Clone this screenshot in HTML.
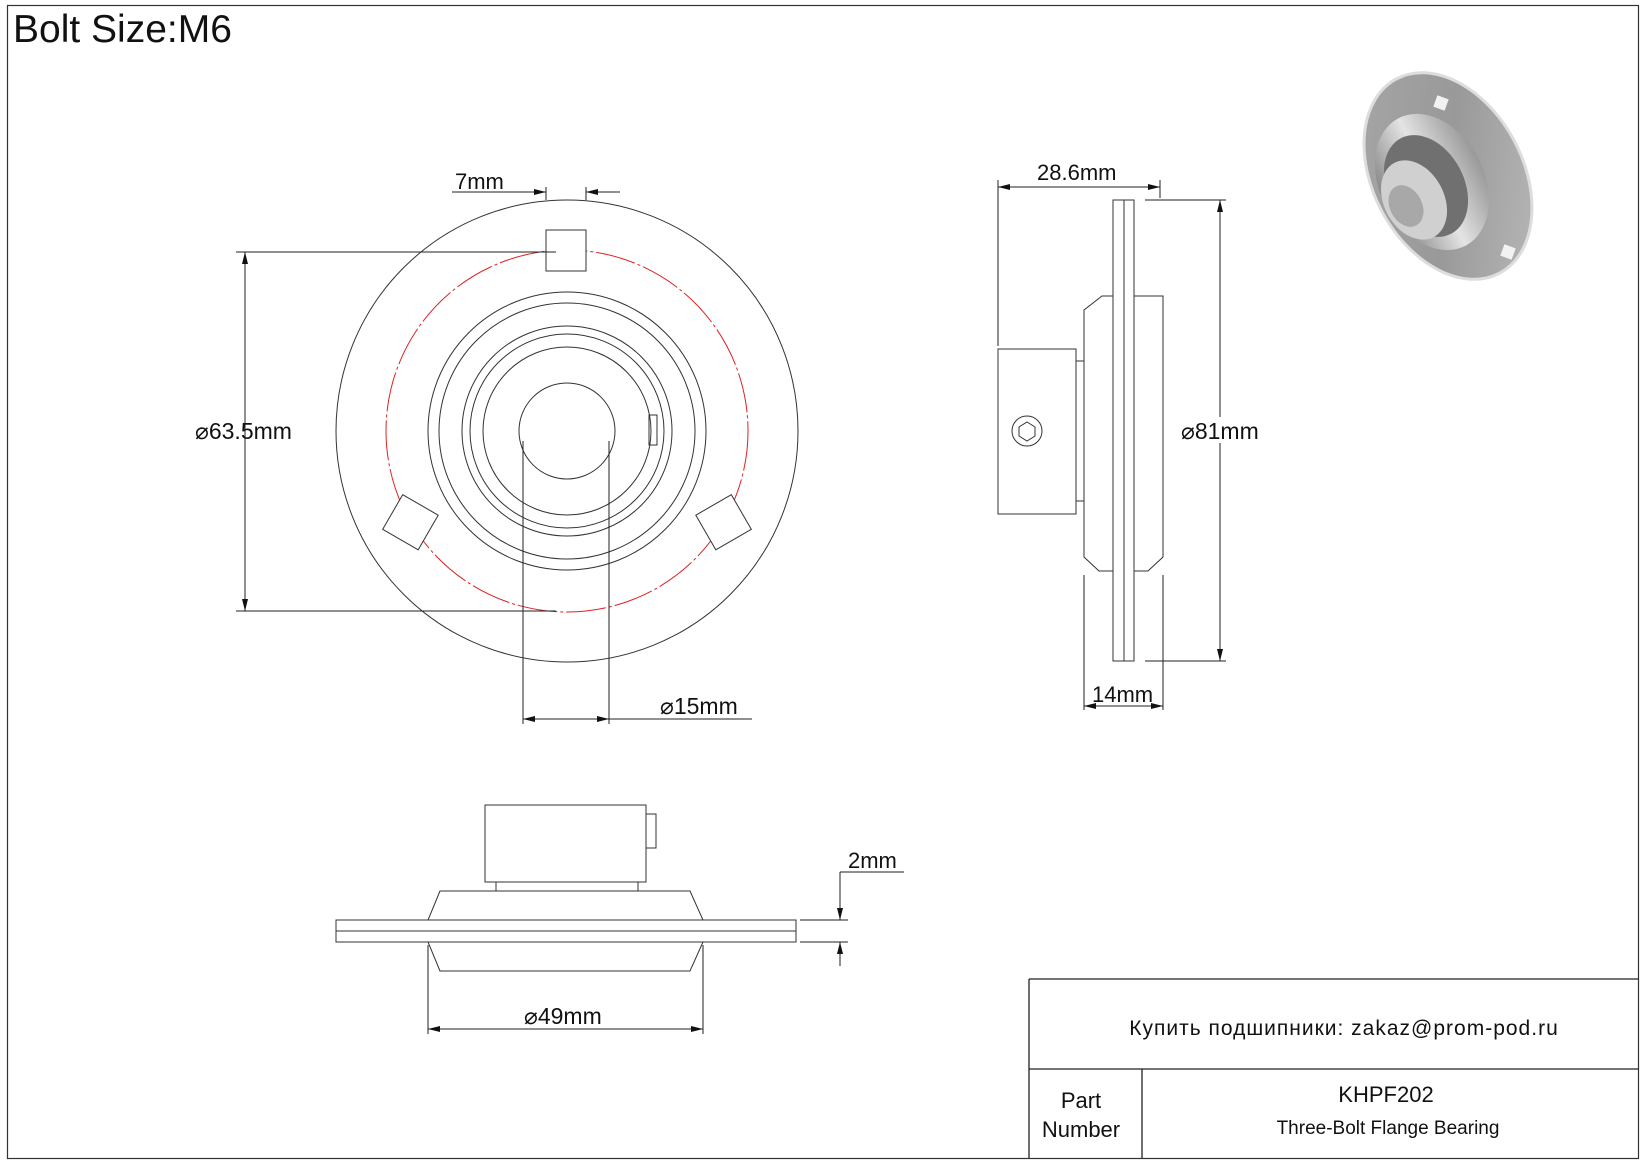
<!DOCTYPE html>
<html><head><meta charset="utf-8"><style>
html,body{margin:0;padding:0;background:#fff}
svg{display:block}
text{font-family:"Liberation Sans","Noto Sans CJK SC",sans-serif;fill:#111}
</style></head><body>
<svg width="1647" height="1165" viewBox="0 0 1647 1165" xmlns="http://www.w3.org/2000/svg">
<defs>
<marker id="a" viewBox="0 0 12 6" refX="12" refY="3" markerWidth="12" markerHeight="6" orient="auto-start-reverse" markerUnits="userSpaceOnUse"><path d="M0,0L12,3L0,6z" fill="#111"/></marker>
<linearGradient id="g1" x1="0" y1="0" x2="1" y2="1"><stop offset="0" stop-color="#a8a8a8"/><stop offset="0.5" stop-color="#999"/><stop offset="1" stop-color="#bdbdbd"/></linearGradient>
<linearGradient id="g2" x1="0" y1="0" x2="1" y2="0"><stop offset="0" stop-color="#888"/><stop offset="0.5" stop-color="#e4e4e4"/><stop offset="1" stop-color="#999"/></linearGradient>
</defs>
<rect x="7.5" y="5.5" width="1631" height="1153" fill="none" stroke="#333" stroke-width="1.2"/>
<text x="13" y="42" font-size="39">Bolt Size:M6</text>

<!-- Front view -->
<g fill="none" stroke="#333" stroke-width="1">
<circle cx="567" cy="431" r="231"/>
<circle cx="567" cy="431" r="181" stroke="#d22" stroke-dasharray="40 3 3 3"/>
<circle cx="567" cy="431" r="139"/>
<circle cx="567" cy="431" r="128"/>
<circle cx="567" cy="431" r="105"/>
<circle cx="567" cy="431" r="97"/>
<circle cx="567" cy="431" r="84"/>
<circle cx="567" cy="431" r="48"/>
<rect x="649" y="415" width="8" height="30"/>
<rect x="546" y="230" width="40" height="41" fill="#fff"/>
<rect x="-20" y="-20" width="40" height="41" fill="#fff" transform="translate(410,522) rotate(-60)"/>
<rect x="-20" y="-20" width="40" height="41" fill="#fff" transform="translate(724,522) rotate(60)"/>
</g>
<g stroke="#222" stroke-width="1" fill="none">
<line x1="236" y1="252" x2="556" y2="252"/>
<line x1="236" y1="611" x2="556" y2="611"/>
<line x1="245" y1="252" x2="245" y2="611" marker-start="url(#a)" marker-end="url(#a)"/>
<line x1="546" y1="187" x2="546" y2="200"/>
<line x1="586" y1="187" x2="586" y2="200"/>
<line x1="452" y1="192" x2="546" y2="192" marker-end="url(#a)"/>
<line x1="620" y1="192" x2="586" y2="192" marker-end="url(#a)"/>
<line x1="523" y1="441" x2="523" y2="724"/>
<line x1="609" y1="441" x2="609" y2="724"/>
<line x1="523" y1="719" x2="609" y2="719" marker-start="url(#a)" marker-end="url(#a)"/>
<line x1="609" y1="719" x2="752" y2="719"/>
</g>
<text x="455" y="189" font-size="22">7mm</text>
<text x="195" y="439" font-size="23">⌀63.5mm</text>
<text x="660" y="714" font-size="23">⌀15mm</text>

<!-- Side view -->
<g fill="#fff" stroke="#333" stroke-width="1">
<polygon points="1102,296 1163,296 1163,310 1163,557 1148,571 1099,571 1084,557 1084,310"/>
<rect x="1113" y="200" width="21" height="461"/>
<line x1="1124" y1="200" x2="1124" y2="661"/>
<rect x="1076" y="361" width="8" height="140"/>
<rect x="998" y="349" width="78" height="165"/>
<circle cx="1027" cy="431" r="15"/>
<polygon points="1027,422 1035,427 1035,436 1027,441 1019,436 1019,427"/>
</g>
<g stroke="#222" stroke-width="1" fill="none">
<line x1="998" y1="180" x2="998" y2="346"/>
<line x1="1160" y1="180" x2="1160" y2="198"/>
<line x1="998" y1="187" x2="1160" y2="187" marker-start="url(#a)" marker-end="url(#a)"/>
<line x1="1145" y1="200" x2="1226" y2="200"/>
<line x1="1145" y1="661" x2="1226" y2="661"/>
<line x1="1220" y1="200" x2="1220" y2="661" marker-start="url(#a)" marker-end="url(#a)"/>
<line x1="1084" y1="575" x2="1084" y2="710"/>
<line x1="1163" y1="575" x2="1163" y2="710"/>
<line x1="1084" y1="706" x2="1163" y2="706" marker-start="url(#a)" marker-end="url(#a)"/>
</g>
<text x="1037" y="180" font-size="22">28.6mm</text>
<rect x="1180" y="417" width="90" height="26" fill="#fff"/>
<text x="1181" y="439" font-size="23">⌀81mm</text>
<text x="1092" y="702" font-size="22">14mm</text>

<!-- Bottom view -->
<g fill="#fff" stroke="#333" stroke-width="1">
<rect x="485" y="805" width="161" height="77"/>
<rect x="646" y="814" width="10" height="34"/>
<rect x="496" y="882" width="142" height="9"/>
<polygon points="440,891 690,891 703,920 428,920"/>
<polygon points="428,942 703,942 690,971 440,971"/>
<rect x="336" y="920" width="460" height="22"/>
<line x1="336" y1="931" x2="796" y2="931"/>
</g>
<g stroke="#222" stroke-width="1" fill="none">
<line x1="800" y1="920" x2="848" y2="920"/>
<line x1="800" y1="942" x2="848" y2="942"/>
<line x1="840" y1="872" x2="840" y2="920" marker-end="url(#a)"/>
<line x1="840" y1="966" x2="840" y2="942" marker-end="url(#a)"/>
<line x1="840" y1="872" x2="904" y2="872"/>
<line x1="428" y1="945" x2="428" y2="1034"/>
<line x1="703" y1="945" x2="703" y2="1034"/>
<line x1="428" y1="1029" x2="703" y2="1029" marker-start="url(#a)" marker-end="url(#a)"/>
</g>
<text x="848" y="868" font-size="22">2mm</text>
<text x="524" y="1024" font-size="23">⌀49mm</text>

<!-- Iso image -->
<g>
<ellipse cx="1448" cy="176" rx="75" ry="110" transform="rotate(-28 1448 176)" fill="url(#g1)" stroke="#ddd" stroke-width="3"/>
<ellipse cx="1432" cy="182" rx="52" ry="72" transform="rotate(-28 1432 182)" fill="url(#g2)"/>
<ellipse cx="1426" cy="186" rx="38" ry="54" transform="rotate(-28 1426 186)" fill="#707070"/>
<ellipse cx="1414" cy="200" rx="30" ry="42" transform="rotate(-28 1414 200)" fill="#d0d0d0"/>
<ellipse cx="1406" cy="206" rx="16" ry="22" transform="rotate(-28 1406 206)" fill="#a8a8a8"/>
<rect x="1435" y="97" width="12" height="12" fill="#f2f2f2" transform="rotate(20 1441 103)"/>
<rect x="1502" y="246" width="12" height="12" fill="#f2f2f2" transform="rotate(20 1508 252)"/>
</g>

<!-- Title block -->
<g stroke="#222" stroke-width="1.3" fill="none">
<line x1="1029" y1="979" x2="1639" y2="979"/>
<line x1="1029" y1="979" x2="1029" y2="1158"/>
<line x1="1029" y1="1069" x2="1639" y2="1069"/>
<line x1="1142" y1="1069" x2="1142" y2="1158"/>
</g>
<text x="1344" y="1035" font-size="21" letter-spacing="1" text-anchor="middle">Купить подшипники: zakaz@prom-pod.ru</text>
<text x="1081" y="1108" font-size="22" text-anchor="middle">Part</text>
<text x="1081" y="1137" font-size="22" text-anchor="middle">Number</text>
<text x="1386" y="1102" font-size="22" text-anchor="middle">KHPF202</text>
<text x="1388" y="1134" font-size="19" text-anchor="middle">Three-Bolt Flange Bearing</text>
</svg>
</body></html>
